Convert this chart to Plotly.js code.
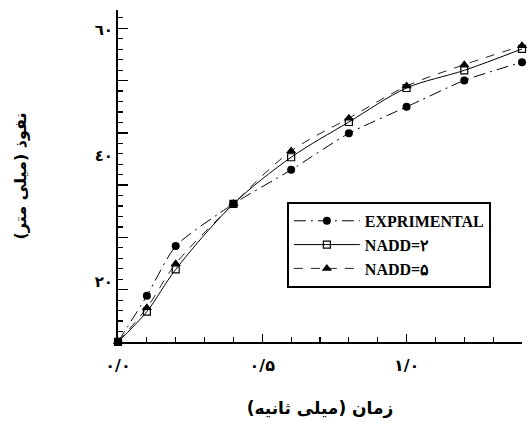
<!DOCTYPE html>
<html>
<head>
<meta charset="utf-8">
<script src="https://cdn.plot.ly/plotly-3.0.1.min.js"></script>
<style>html,body{margin:0;padding:0;background:#fff;}#chart{width:530px;height:421px;}</style>
</head>
<body>
<div id="chart"></div>
<script>
// Time (ms)
const time = [0, 0.1, 0.2, 0.4, 0.6, 0.8, 1.0, 1.2, 1.4];
// Penetration (mm), read against the printed tick labels
const experimental = [10.5, 17.8, 25.7, 32.4, 37.8, 43.6, 47.8, 52.0, 54.9];
const nadd2 = [10.5, 15.3, 22.0, 32.4, 39.8, 45.4, 50.8, 53.6, 57.0];
const nadd5 = [10.5, 15.9, 22.9, 32.4, 40.8, 46.0, 51.1, 54.5, 57.5];
const seriesNames = ['EXPRIMENTAL', 'NADD=\u06F2', 'NADD=\u06F5'];
const xTickAlias = {'0.0': '\u0660/\u0660', '0.5': '\u0660/\u06F5', '1.0': '\u0661/\u0660'};
const yTickAlias = {'20': '\u0662\u0660', '40': '\u0664\u0660', '60': '\u0666\u0660'};
const xTitle = '\u200Fزمان (میلی ثانیه)\u200F';
const yTitle = '\u200Fنفوذ (میلی متر)\u200F';

const arabicFont = 'DejaVu Sans, Liberation Sans, sans-serif';
const legendFont = 'Liberation Serif, DejaVu Serif, serif';

const traces = [
  {
    x: time, y: experimental, name: seriesNames[0], type: 'scatter', mode: 'lines+markers',
    line: {color: '#000', width: 1, dash: '12px,5px,2px,5px', shape: 'spline', smoothing: 0.6},
    marker: {symbol: 'circle', size: 8, color: '#000'}, cliponaxis: false
  },
  {
    x: time, y: nadd2, name: seriesNames[1], type: 'scatter', mode: 'lines+markers',
    line: {color: '#000', width: 1, shape: 'spline', smoothing: 0.9},
    marker: {symbol: 'square-open', size: 7, color: '#000', line: {width: 1.2}}, cliponaxis: false
  },
  {
    x: time, y: nadd5, name: seriesNames[2], type: 'scatter', mode: 'lines+markers',
    line: {color: '#222', width: 1, dash: '9px,8px', shape: 'spline', smoothing: 0.9},
    marker: {symbol: 'triangle-up', size: 9, color: '#000'}, cliponaxis: false
  },
  {x: [], y: [], yaxis: 'y2', showlegend: false, hoverinfo: 'skip', type: 'scatter'}
];

const layout = {
  width: 530, height: 421,
  margin: {l: 118, r: 8, t: 10, b: 79},
  paper_bgcolor: '#fff', plot_bgcolor: '#fff',
  showlegend: true,
  legend: {
    x: 0.418, y: 0.422, xanchor: 'left', yanchor: 'top',
    bgcolor: '#fff', bordercolor: '#000', borderwidth: 2,
    itemwidth: 66,
    font: {family: legendFont, size: 16, color: '#000', weight: 700}
  },
  xaxis: {
    range: [0, 1.4], showline: true, linecolor: '#000', linewidth: 2,
    showgrid: false, zeroline: false,
    ticks: 'inside', tick0: 0, dtick: 0.5, ticklen: 8, tickwidth: 1.5, tickcolor: '#000',
    minor: {ticks: 'inside', tick0: 0, dtick: 0.1, ticklen: 5, tickwidth: 1.2, tickcolor: '#000', showgrid: false},
    tickformat: '.1f', labelalias: xTickAlias, ticklabelstandoff: 8,
    tickfont: {family: arabicFont, size: 16, color: '#000', weight: 700},
    title: {text: xTitle, standoff: 28, font: {family: arabicFont, size: 17, color: '#000', weight: 700}}
  },
  yaxis: {
    range: [10.47, 63.18], showline: true, linecolor: '#000', linewidth: 2,
    showgrid: false, zeroline: false,
    ticks: '', tick0: 0, dtick: 20, tickformat: 'd', labelalias: yTickAlias,
    tickfont: {family: arabicFont, size: 15, color: '#000', weight: 700},
    title: {text: yTitle, standoff: 64, font: {family: arabicFont, size: 16, color: '#000', weight: 700}}
  },
  yaxis2: {
    overlaying: 'y', side: 'left', anchor: 'x',
    range: [0, 63.5], showline: false, showgrid: false, zeroline: false,
    showticklabels: false,
    ticks: 'inside', tick0: 0, dtick: 10, ticklen: 10, tickwidth: 1.5, tickcolor: '#000',
    minor: {ticks: 'inside', tick0: 0, dtick: 2, ticklen: 5, tickwidth: 1.2, tickcolor: '#000', showgrid: false}
  }
};

Plotly.newPlot('chart', traces, layout, {displayModeBar: false, staticPlot: true});
</script>
</body>
</html>
